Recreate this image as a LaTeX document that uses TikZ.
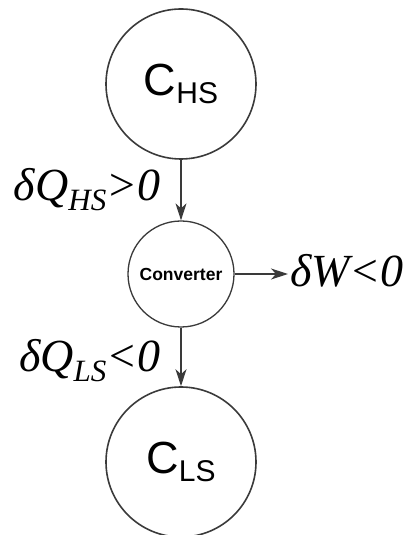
\documentclass[tikz,border=0pt]{standalone}
\usepackage{fontspec}
\usetikzlibrary{arrows.meta}
\setmainfont{Liberation Serif}
\setsansfont{Liberation Sans}
\definecolor{linegray}{HTML}{3A3A3A}
\newcommand{\lowsub}[2]{\raisebox{-#2}{#1}}
\tikzset{
  bath/.style={circle, draw=linegray, line width=1.6pt, minimum size=150pt, inner sep=0pt,
    font=\sffamily\fontsize{45}{45}\selectfont},
  conv/.style={circle, draw=linegray, line width=1.3pt, minimum size=106pt, inner sep=0pt,
    font=\sffamily\bfseries\fontsize{17.5}{17.5}\selectfont},
  flow/.style={-{Stealth[length=17pt, width=11pt, inset=5pt]}, draw=linegray, fill=linegray, line width=1.2pt},
  heat/.style={font=\itshape\fontsize{46}{46}\selectfont, inner sep=2pt}
}
\begin{document}
\begin{tikzpicture}[x=1pt, y=1pt]
\useasboundingbox (0,0) rectangle (413,535);
\node[bath] (HS) at (181,451) {C\lowsub{\fontsize{30}{30}\selectfont HS}{8pt}};
\node[conv] (CV) at (181,261) {Converter};
\node[bath] (LS) at (181,73) {C\lowsub{\fontsize{30}{30}\selectfont LS}{8pt}};
\node[heat, anchor=west] (DW) at (288,264) {δW<0};
\draw[flow] (HS) -- node[heat, left, xshift=-18pt] {δQ\lowsub{\fontsize{31}{31}\selectfont HS}{10pt}>0} (CV);
\draw[flow] (CV) -- node[heat, left, xshift=-18pt, yshift=-4pt] {δQ\lowsub{\fontsize{31}{31}\selectfont LS}{10pt}<0} (LS);
\draw[flow] (CV) -- (CV -| DW.west);
\end{tikzpicture}
\end{document}
